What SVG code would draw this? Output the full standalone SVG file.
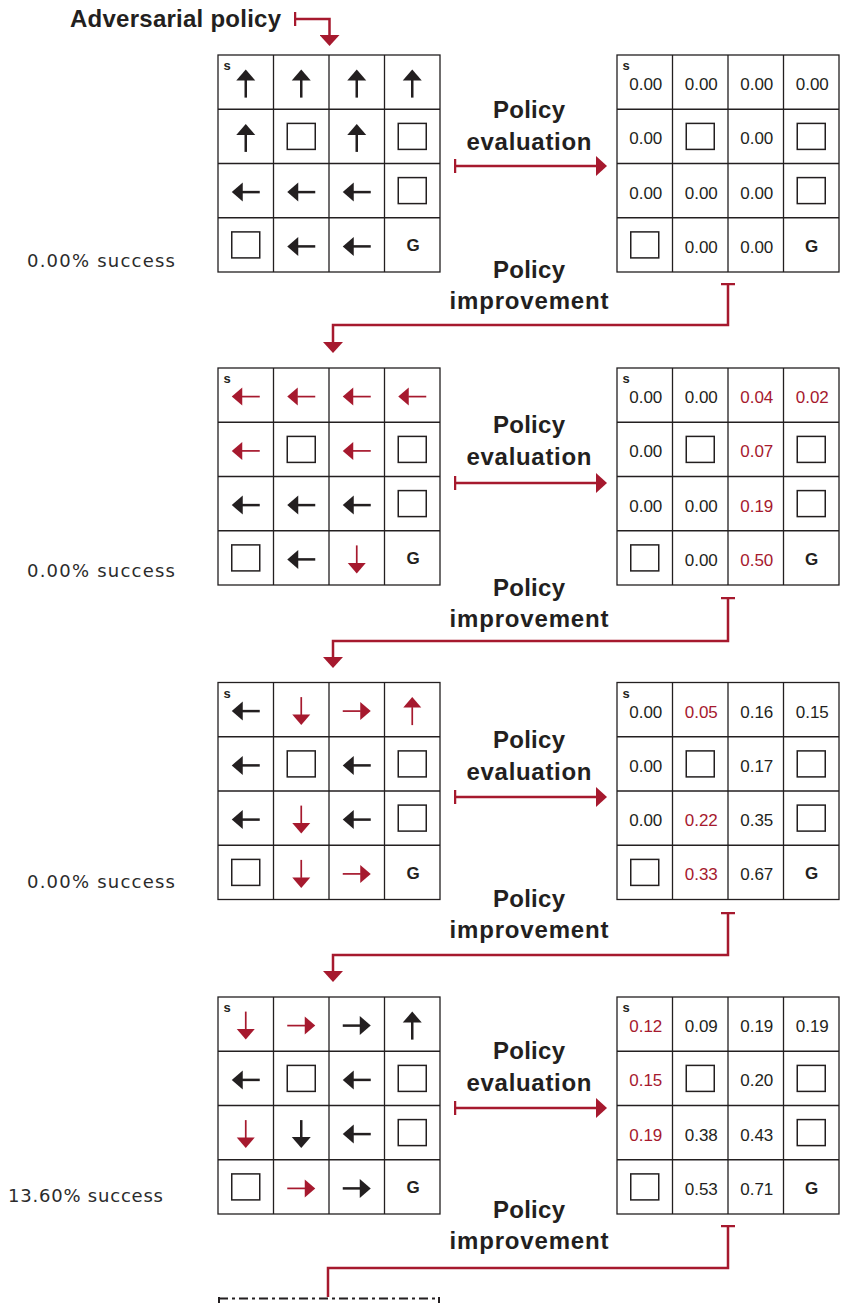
<svg xmlns="http://www.w3.org/2000/svg" xmlns:xlink="http://www.w3.org/1999/xlink" width="843" height="1303" viewBox="0 0 843 1303">
<style>
.gl{fill:none;stroke:#231f20;stroke-width:1.3}
.ob{fill:#fff;stroke:#231f20;stroke-width:1.5}
.s{font-family:"Liberation Sans",Arial,sans-serif;font-weight:bold;font-size:13px;fill:#231f20}
.g{font-family:"Liberation Sans",Arial,sans-serif;font-weight:bold;font-size:17px;fill:#231f20;text-anchor:middle}
.n{font-family:"Liberation Sans",Arial,sans-serif;font-size:17px;fill:#231f20;text-anchor:middle}
.r{fill:#a6192e}
.lb{font-family:"Liberation Sans",Arial,sans-serif;font-weight:bold;font-size:24px;fill:#231f20;text-anchor:middle}
.sc{font-family:"DejaVu Sans",sans-serif;font-size:18px;fill:#2b2b2b}
.cn{fill:none;stroke:#a6192e;stroke-width:2.5}
</style>
<defs>
<g id="grid"><rect class="gl" x="0" y="0" width="222" height="217"/><path class="gl" d="M55.5,0V217M111,0V217M166.5,0V217M0,54.25H222M0,108.5H222M0,162.75H222"/></g>
<g id="aB"><path d="M0,-14L9.5,-3L-9.5,-3Z" fill="#231f20"/><rect x="-1.25" y="-4" width="2.5" height="18" fill="#231f20"/></g>
<g id="aR"><path d="M0,-14L9,-3.5L-9,-3.5Z" fill="#a6192e"/><rect x="-0.85" y="-4" width="1.7" height="18" fill="#a6192e"/></g>
<marker id="ah" markerUnits="userSpaceOnUse" markerWidth="12" markerHeight="20" viewBox="0 0 12 20" refX="0" refY="10" orient="auto"><path d="M0,0L11,10L0,20Z" fill="#a6192e"/></marker>
<marker id="tb" markerUnits="userSpaceOnUse" markerWidth="4" markerHeight="16" viewBox="0 0 4 16" refX="1.5" refY="8" orient="auto"><path d="M1.5,1V15" stroke="#a6192e" stroke-width="2.5"/></marker>
</defs>
<rect width="843" height="1303" fill="#fff"/>

<text id="title" class="lb" x="175.5" y="27" textLength="211">Adversarial policy</text>

<!-- Iteration 1 -->
<g id="policy1">
<use href="#grid" x="218" y="55"/>
<text class="s" x="223.5" y="70">s</text>
<use href="#aB" transform="translate(245.75,83.6)"/>
<use href="#aB" transform="translate(301.25,83.6)"/>
<use href="#aB" transform="translate(356.75,83.6)"/>
<use href="#aB" transform="translate(412.25,83.6)"/>
<use href="#aB" transform="translate(245.75,137.9)"/>
<use href="#aB" transform="translate(356.75,137.9)"/>
<use href="#aB" transform="translate(245.75,192.1) rotate(-90)"/>
<use href="#aB" transform="translate(301.25,192.1) rotate(-90)"/>
<use href="#aB" transform="translate(356.75,192.1) rotate(-90)"/>
<use href="#aB" transform="translate(301.25,246.4) rotate(-90)"/>
<use href="#aB" transform="translate(356.75,246.4) rotate(-90)"/>
<rect class="ob" x="287.25" y="123.4" width="28" height="26"/>
<rect class="ob" x="398.25" y="123.4" width="28" height="26"/>
<rect class="ob" x="398.25" y="177.6" width="28" height="26"/>
<rect class="ob" x="231.75" y="231.9" width="28" height="26"/>
<text class="g" x="413" y="251">G</text>
</g>
<g id="values1">
<use href="#grid" x="617" y="55"/>
<text class="s" x="622.5" y="70">s</text>
<text class="n" x="645.75" y="90.1">0.00</text><text class="n" x="701.25" y="90.1">0.00</text><text class="n" x="756.75" y="90.1">0.00</text><text class="n" x="812.25" y="90.1">0.00</text>
<text class="n" x="645.75" y="144.4">0.00</text><text class="n" x="756.75" y="144.4">0.00</text>
<text class="n" x="645.75" y="198.6">0.00</text><text class="n" x="701.25" y="198.6">0.00</text><text class="n" x="756.75" y="198.6">0.00</text>
<text class="n" x="701.25" y="252.9">0.00</text><text class="n" x="756.75" y="252.9">0.00</text>
<rect class="ob" x="686.25" y="123.4" width="28" height="26"/>
<rect class="ob" x="797.25" y="123.4" width="28" height="26"/>
<rect class="ob" x="797.25" y="177.6" width="28" height="26"/>
<rect class="ob" x="630.75" y="231.9" width="28" height="26"/>
<text class="g" x="811.5" y="251.5">G</text>
</g>
<g id="labels1">
<text class="lb" x="529" y="118" textLength="72">Policy</text>
<text class="lb" x="529" y="150" textLength="125">evaluation</text>
<text class="lb" x="529" y="278" textLength="72">Policy</text>
<text class="lb" x="529" y="309" textLength="159">improvement</text>
<text class="sc" x="27" y="267" textLength="148">0.00% success</text>
</g>

<!-- Iteration 2 -->
<g id="policy2">
<use href="#grid" x="218" y="368"/>
<text class="s" x="223.5" y="383">s</text>
<use href="#aR" transform="translate(245.75,396.6) rotate(-90)"/>
<use href="#aR" transform="translate(301.25,396.6) rotate(-90)"/>
<use href="#aR" transform="translate(356.75,396.6) rotate(-90)"/>
<use href="#aR" transform="translate(412.25,396.6) rotate(-90)"/>
<use href="#aR" transform="translate(245.75,450.9) rotate(-90)"/>
<use href="#aR" transform="translate(356.75,450.9) rotate(-90)"/>
<use href="#aB" transform="translate(245.75,505.1) rotate(-90)"/>
<use href="#aB" transform="translate(301.25,505.1) rotate(-90)"/>
<use href="#aB" transform="translate(356.75,505.1) rotate(-90)"/>
<use href="#aB" transform="translate(301.25,559.4) rotate(-90)"/>
<use href="#aR" transform="translate(356.75,559.4) rotate(180)"/>
<rect class="ob" x="287.25" y="436.4" width="28" height="26"/>
<rect class="ob" x="398.25" y="436.4" width="28" height="26"/>
<rect class="ob" x="398.25" y="490.6" width="28" height="26"/>
<rect class="ob" x="231.75" y="544.9" width="28" height="26"/>
<text class="g" x="413" y="564">G</text>
</g>
<g id="values2">
<use href="#grid" x="617" y="368"/>
<text class="s" x="622.5" y="383">s</text>
<text class="n" x="645.75" y="403.1">0.00</text><text class="n" x="701.25" y="403.1">0.00</text><text class="n r" x="756.75" y="403.1">0.04</text><text class="n r" x="812.25" y="403.1">0.02</text>
<text class="n" x="645.75" y="457.4">0.00</text><text class="n r" x="756.75" y="457.4">0.07</text>
<text class="n" x="645.75" y="511.6">0.00</text><text class="n" x="701.25" y="511.6">0.00</text><text class="n r" x="756.75" y="511.6">0.19</text>
<text class="n" x="701.25" y="565.9">0.00</text><text class="n r" x="756.75" y="565.9">0.50</text>
<rect class="ob" x="686.25" y="436.4" width="28" height="26"/>
<rect class="ob" x="797.25" y="436.4" width="28" height="26"/>
<rect class="ob" x="797.25" y="490.6" width="28" height="26"/>
<rect class="ob" x="630.75" y="544.9" width="28" height="26"/>
<text class="g" x="811.5" y="564.5">G</text>
</g>
<g id="labels2">
<text class="lb" x="529" y="433" textLength="72">Policy</text>
<text class="lb" x="529" y="465" textLength="125">evaluation</text>
<text class="lb" x="529" y="596" textLength="72">Policy</text>
<text class="lb" x="529" y="627" textLength="159">improvement</text>
<text class="sc" x="27" y="577" textLength="148">0.00% success</text>
</g>

<!-- Iteration 3 -->
<g id="policy3">
<use href="#grid" x="218" y="682.5"/>
<text class="s" x="223.5" y="697.5">s</text>
<use href="#aB" transform="translate(245.75,711.1) rotate(-90)"/>
<use href="#aR" transform="translate(301.25,711.1) rotate(180)"/>
<use href="#aR" transform="translate(356.75,711.1) rotate(90)"/>
<use href="#aR" transform="translate(412.25,711.1)"/>
<use href="#aB" transform="translate(245.75,765.4) rotate(-90)"/>
<use href="#aB" transform="translate(356.75,765.4) rotate(-90)"/>
<use href="#aB" transform="translate(245.75,819.6) rotate(-90)"/>
<use href="#aR" transform="translate(301.25,819.6) rotate(180)"/>
<use href="#aB" transform="translate(356.75,819.6) rotate(-90)"/>
<use href="#aR" transform="translate(301.25,873.9) rotate(180)"/>
<use href="#aR" transform="translate(356.75,873.9) rotate(90)"/>
<rect class="ob" x="287.25" y="750.9" width="28" height="26"/>
<rect class="ob" x="398.25" y="750.9" width="28" height="26"/>
<rect class="ob" x="398.25" y="805.1" width="28" height="26"/>
<rect class="ob" x="231.75" y="859.4" width="28" height="26"/>
<text class="g" x="413" y="878.5">G</text>
</g>
<g id="values3">
<use href="#grid" x="617" y="682.5"/>
<text class="s" x="622.5" y="697.5">s</text>
<text class="n" x="645.75" y="717.6">0.00</text><text class="n r" x="701.25" y="717.6">0.05</text><text class="n" x="756.75" y="717.6">0.16</text><text class="n" x="812.25" y="717.6">0.15</text>
<text class="n" x="645.75" y="771.9">0.00</text><text class="n" x="756.75" y="771.9">0.17</text>
<text class="n" x="645.75" y="826.1">0.00</text><text class="n r" x="701.25" y="826.1">0.22</text><text class="n" x="756.75" y="826.1">0.35</text>
<text class="n r" x="701.25" y="880.4">0.33</text><text class="n" x="756.75" y="880.4">0.67</text>
<rect class="ob" x="686.25" y="750.9" width="28" height="26"/>
<rect class="ob" x="797.25" y="750.9" width="28" height="26"/>
<rect class="ob" x="797.25" y="805.1" width="28" height="26"/>
<rect class="ob" x="630.75" y="859.4" width="28" height="26"/>
<text class="g" x="811.5" y="879">G</text>
</g>
<g id="labels3">
<text class="lb" x="529" y="748" textLength="72">Policy</text>
<text class="lb" x="529" y="780" textLength="125">evaluation</text>
<text class="lb" x="529" y="907" textLength="72">Policy</text>
<text class="lb" x="529" y="938" textLength="159">improvement</text>
<text class="sc" x="27" y="888" textLength="148">0.00% success</text>
</g>

<!-- Iteration 4 -->
<g id="policy4">
<use href="#grid" x="218" y="997"/>
<text class="s" x="223.5" y="1012">s</text>
<use href="#aR" transform="translate(245.75,1025.6) rotate(180)"/>
<use href="#aR" transform="translate(301.25,1025.6) rotate(90)"/>
<use href="#aB" transform="translate(356.75,1025.6) rotate(90)"/>
<use href="#aB" transform="translate(412.25,1025.6)"/>
<use href="#aB" transform="translate(245.75,1079.9) rotate(-90)"/>
<use href="#aB" transform="translate(356.75,1079.9) rotate(-90)"/>
<use href="#aR" transform="translate(245.75,1134.1) rotate(180)"/>
<use href="#aB" transform="translate(301.25,1134.1) rotate(180)"/>
<use href="#aB" transform="translate(356.75,1134.1) rotate(-90)"/>
<use href="#aR" transform="translate(301.25,1188.4) rotate(90)"/>
<use href="#aB" transform="translate(356.75,1188.4) rotate(90)"/>
<rect class="ob" x="287.25" y="1065.4" width="28" height="26"/>
<rect class="ob" x="398.25" y="1065.4" width="28" height="26"/>
<rect class="ob" x="398.25" y="1119.6" width="28" height="26"/>
<rect class="ob" x="231.75" y="1173.9" width="28" height="26"/>
<text class="g" x="413" y="1193">G</text>
</g>
<g id="values4">
<use href="#grid" x="617" y="997"/>
<text class="s" x="622.5" y="1012">s</text>
<text class="n r" x="645.75" y="1032.1">0.12</text><text class="n" x="701.25" y="1032.1">0.09</text><text class="n" x="756.75" y="1032.1">0.19</text><text class="n" x="812.25" y="1032.1">0.19</text>
<text class="n r" x="645.75" y="1086.4">0.15</text><text class="n" x="756.75" y="1086.4">0.20</text>
<text class="n r" x="645.75" y="1140.6">0.19</text><text class="n" x="701.25" y="1140.6">0.38</text><text class="n" x="756.75" y="1140.6">0.43</text>
<text class="n" x="701.25" y="1194.9">0.53</text><text class="n" x="756.75" y="1194.9">0.71</text>
<rect class="ob" x="686.25" y="1065.4" width="28" height="26"/>
<rect class="ob" x="797.25" y="1065.4" width="28" height="26"/>
<rect class="ob" x="797.25" y="1119.6" width="28" height="26"/>
<rect class="ob" x="630.75" y="1173.9" width="28" height="26"/>
<text class="g" x="811.5" y="1193.5">G</text>
</g>
<g id="labels4">
<text class="lb" x="529" y="1059" textLength="72">Policy</text>
<text class="lb" x="529" y="1091" textLength="125">evaluation</text>
<text class="lb" x="529" y="1218" textLength="72">Policy</text>
<text class="lb" x="529" y="1249" textLength="159">improvement</text>
<text class="sc" x="8" y="1202" textLength="155">13.60% success</text>
</g>

<g id="next-policy">
<path d="M219,1298.5H440" fill="none" stroke="#231f20" stroke-width="2" stroke-dasharray="9 4 3 4"/>
<path d="M219,1297V1303M439,1297V1303" fill="none" stroke="#231f20" stroke-width="2"/>
</g>

<g id="connectors">
<path class="cn" d="M295,19H329.5V35" marker-start="url(#tb)" marker-end="url(#ah)"/>
<path class="cn" d="M455,166H596" marker-start="url(#tb)" marker-end="url(#ah)"/>
<path class="cn" d="M728,284V325H333V342" marker-start="url(#tb)" marker-end="url(#ah)"/>
<path class="cn" d="M455,483H596" marker-start="url(#tb)" marker-end="url(#ah)"/>
<path class="cn" d="M728,598V641H333V657" marker-start="url(#tb)" marker-end="url(#ah)"/>
<path class="cn" d="M455,797H596" marker-start="url(#tb)" marker-end="url(#ah)"/>
<path class="cn" d="M728,913V955H333V971" marker-start="url(#tb)" marker-end="url(#ah)"/>
<path class="cn" d="M455,1108H596" marker-start="url(#tb)" marker-end="url(#ah)"/>
<path class="cn" d="M728,1226V1268H328V1297" marker-start="url(#tb)"/>
</g>
</svg>
